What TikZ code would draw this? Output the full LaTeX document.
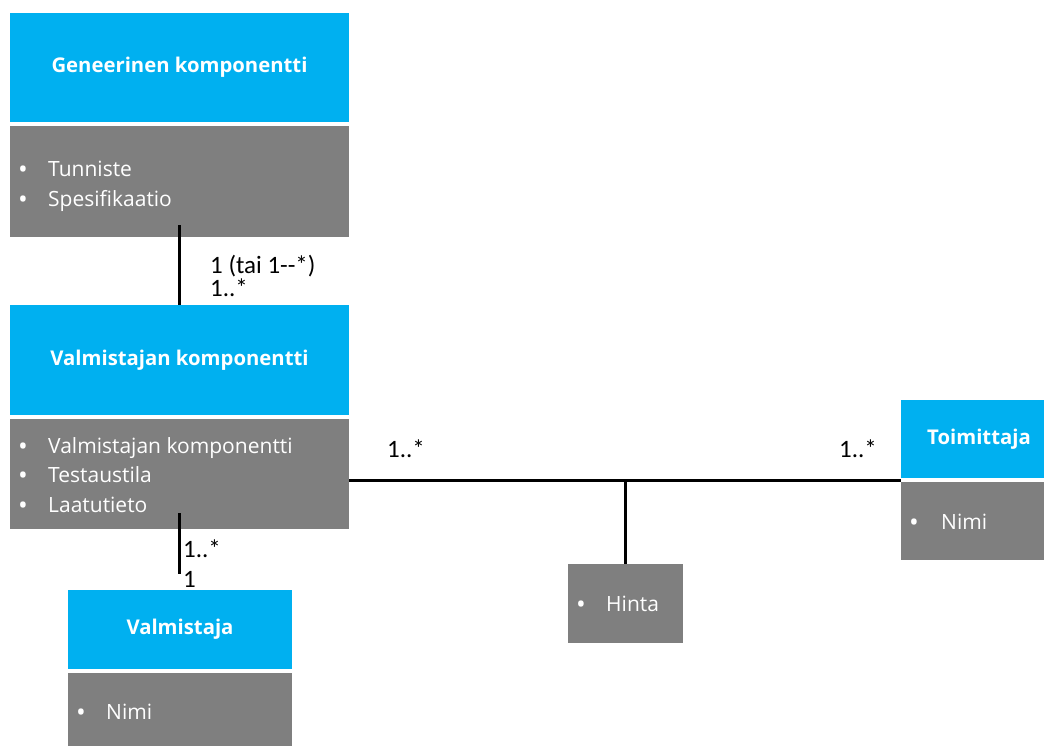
\documentclass[tikz,border=0pt]{standalone}
\usepackage{fontspec}
\setmainfont{Open Sans}
\newfontfamily\lblfont{Carlito}
\definecolor{hdr}{HTML}{00B0F0}
\definecolor{bdy}{HTML}{7F7F7F}
\begin{document}
\begin{tikzpicture}[x=1pt,y=-1pt,
  box/.style={anchor=north west, inner sep=0pt, outer sep=0pt, text=white, align=center},
  hdrbox/.style={box, fill=hdr, font=\bfseries\fontsize{20.3}{24}\selectfont},
  bdybox/.style={box, fill=bdy},
  item/.style={text=white, font=\fontsize{21}{24}\selectfont, anchor=base west, inner sep=0pt},
  bul/.style={text=white, font=\fontsize{26}{28}\selectfont, anchor=base west, inner sep=0pt},
  lbl/.style={text=black, font=\lblfont\fontsize{25}{21}\selectfont, anchor=base west, inner sep=0pt},
  conn/.style={line width=3pt}]
\useasboundingbox[fill=white] (0,0) rectangle (1044,745);

% Geneerinen komponentti
\node[hdrbox, minimum width=339pt, minimum height=109pt] (gh) at (10,13) {Geneerinen komponentti};
\node[bdybox, minimum width=339pt, minimum height=111pt] (gb) at (10,126) {};
\node[bul] (gb1) at (18,178) {•};
\node[item] (gi1) at (48,176) {Tunniste};
\node[bul] (gb2) at (18,208) {•};
\node[item] (gi2) at (48,206) {Spesifikaatio};

% Valmistajan komponentti
\node[hdrbox, minimum width=339pt, minimum height=110pt] (vh) at (10,305) {Valmistajan komponentti};
\node[bdybox, minimum width=339pt, minimum height=110pt] (vb) at (10,419) {};
\node[bul] (vb1) at (18,455) {•};
\node[item] (vi1) at (48,453) {Valmistajan komponentti};
\node[bul] (vb2) at (18,484) {•};
\node[item] (vi2) at (48,482) {Testaustila};
\node[bul] (vb3) at (18,514) {•};
\node[item] (vi3) at (48,512) {Laatutieto};

% Valmistaja
\node[hdrbox, minimum width=224pt, minimum height=79pt] (mh) at (68,590) {Valmistaja};
\node[bdybox, minimum width=224pt, minimum height=90pt] (mb) at (68,673) {};
\node[bul] (mb1) at (76,721) {•};
\node[item] (mi1) at (106,719) {Nimi};

% Toimittaja
\node[hdrbox, minimum width=156pt, minimum height=78pt] (th) at (901,400) {Toimittaja};
\node[bdybox, minimum width=156pt, minimum height=78pt] (tb) at (901,482) {};
\node[bul] (tb1) at (909,531) {•};
\node[item] (ti1) at (941,529) {Nimi};

% Hinta
\node[bdybox, minimum width=115pt, minimum height=79pt] (hb) at (568,564) {};
\node[bul] (hb1) at (576,613) {•};
\node[item] (hi1) at (606,611) {Hinta};

% Connectors
\draw[conn] ([xshift=-0.5pt,yshift=12pt]gb.south) -- ([xshift=-0.5pt]vh.north);
\draw[conn] ([xshift=-0.5pt,yshift=16pt]vb.south) -- ([xshift=-0.5pt,yshift=16pt]vb.south |- mh.north);
\draw[conn] ([yshift=-6pt]vb.east) -- ([yshift=2pt]tb.north west);
\coordinate (jn) at (625,480);
\draw[conn] (jn) -- (jn |- hb.north);

% Multiplicity labels
\node[lbl, align=left] (l1) at (210,296) {1 (tai 1--*)\\1..*};
\node[lbl] (l3) at (183,557) {1..*};
\node[lbl] (l4) at (183,587) {1};
\node[lbl] (l5) at (387,457) {1..*};
\node[lbl] (l6) at (839,457) {1..*};
\end{tikzpicture}
\end{document}
